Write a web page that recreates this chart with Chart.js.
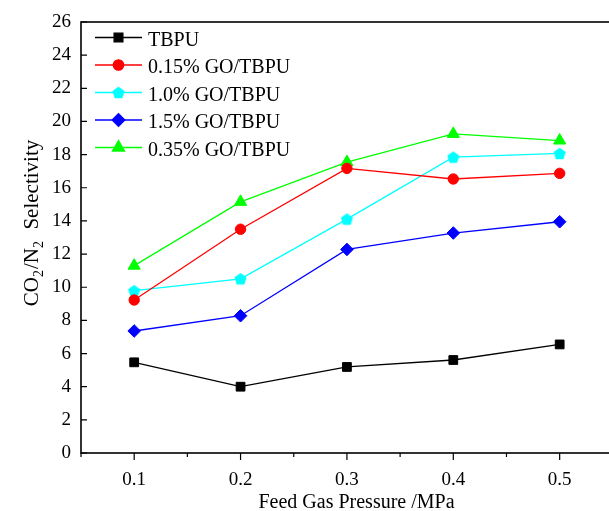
<!DOCTYPE html>
<html lang="en">
<head>
<meta charset="UTF-8">
<title>CO2/N2 Selectivity vs Feed Gas Pressure</title>
<script src="https://cdn.jsdelivr.net/npm/chart.js"></script>
<style>
    html, body {
        margin: 0;
        padding: 0;
        background: #ffffff;
        overflow: hidden;
    }
    #wrap {
        width: 640px;
        height: 511px;
    }
</style>
</head>
<body>
<div id="wrap"><canvas id="selChart" width="640" height="511"></canvas></div>
<script>
// feed gas pressure (MPa)
const pressures = [0.1, 0.2, 0.3, 0.4, 0.5];

// series names
const seriesNames = ['TBPU', '0.15% GO/TBPU', '1.0% GO/TBPU', '1.5% GO/TBPU', '0.35% GO/TBPU'];

// CO2/N2 selectivity
const tbpu   = [5.47, 4.00, 5.19, 5.61, 6.55];
const go015  = [9.23, 13.50, 17.17, 16.53, 16.87];
const go10   = [9.79, 10.51, 14.11, 17.85, 18.07];
const go15   = [7.36, 8.28, 12.28, 13.27, 13.95];
const go035  = [11.30, 15.15, 17.55, 19.25, 18.85];

// ticks
const yTicks = [0, 2, 4, 6, 8, 10, 12, 14, 16, 18, 20, 22, 24, 26];
const xMajor = [0.1, 0.2, 0.3, 0.4, 0.5];
const xMinor = [0.05, 0.15, 0.25, 0.35, 0.45, 0.55];

const FONT = "'Liberation Serif', 'Times New Roman', serif";

// pentagon marker (not built into Chart.js)
function pentagon(r, color) {
    const s = Math.ceil(r * 2) + 2;
    const c = document.createElement('canvas');
    c.width = s;
    c.height = s;
    const g = c.getContext('2d');
    g.fillStyle = color;
    g.beginPath();
    for (let i = 0; i < 5; i++) {
        const a = -Math.PI / 2 + i * 2 * Math.PI / 5;
        const px = s / 2 + r * Math.cos(a);
        const py = s / 2 + r * Math.sin(a) + 0.6;
        if (i === 0) g.moveTo(px, py); else g.lineTo(px, py);
    }
    g.closePath();
    g.fill();
    return c;
}

const colors = ['#000000', '#ff0000', '#00ffff', '#0000ff', '#00ff00'];
const styles = ['rect', 'circle', pentagon(6.4, '#00ffff'), 'rectRot', 'triangle'];
const radii = [6.2, 5.2, 6.4, 6.3, 7];
const allValues = [tbpu, go015, go10, go15, go035];

const datasets = allValues.map((vals, i) => ({
    label: seriesNames[i],
    data: vals.map((v, k) => ({ x: pressures[k], y: v })),
    borderColor: colors[i],
    backgroundColor: colors[i],
    pointBackgroundColor: colors[i],
    pointBorderColor: colors[i],
    pointStyle: styles[i],
    pointRadius: radii[i],
    pointBorderWidth: 1,
    borderWidth: 1.3,
    tension: 0,
    fill: false
}));

// frame, ticks, y title and the legend inside the plot
const decor = {
    id: 'decor',
    afterDraw(chart) {
        const { ctx, chartArea: a, scales: { x, y } } = chart;
        ctx.save();
        ctx.strokeStyle = '#000';
        ctx.lineWidth = 1.6;
        ctx.strokeRect(a.left, a.top, a.right - a.left, a.bottom - a.top);

        ctx.lineWidth = 1.2;
        ctx.beginPath();
        yTicks.forEach(v => {
            const py = y.getPixelForValue(v);
            ctx.moveTo(a.left, py);
            ctx.lineTo(a.left + 6, py);
        });
        xMajor.forEach(v => {
            const px = x.getPixelForValue(v);
            ctx.moveTo(px, a.bottom);
            ctx.lineTo(px, a.bottom + 7);
        });
        xMinor.forEach(v => {
            const px = x.getPixelForValue(v);
            ctx.moveTo(px, a.bottom);
            ctx.lineTo(px, a.bottom + 4);
        });
        ctx.stroke();

        // y axis title with subscripts
        const parts = [
            ['CO', false], ['2', true], ['/N', false], ['2', true], ['  Selectivity', false]
        ];
        const big = '21px ' + FONT, small = '14px ' + FONT;
        let total = 0;
        parts.forEach(p => {
            ctx.font = p[1] ? small : big;
            total += ctx.measureText(p[0]).width + (p[1] ? 1 : 0);
        });
        ctx.translate(38, 223);
        ctx.rotate(-Math.PI / 2);
        ctx.fillStyle = '#000';
        ctx.textBaseline = 'alphabetic';
        ctx.textAlign = 'left';
        let cx = -total / 2;
        parts.forEach(p => {
            ctx.font = p[1] ? small : big;
            ctx.fillText(p[0], cx, p[1] ? 5 : 0);
            cx += ctx.measureText(p[0]).width + (p[1] ? 1 : 0);
        });
        ctx.setTransform(1, 0, 0, 1, 0, 0);

        // legend
        const lx0 = 95, lx1 = 142, mx = 118.5, tx = 148, ly0 = 37.5, step = 27.5;
        ctx.font = '20px ' + FONT;
        chart.data.datasets.forEach((ds, i) => {
            const ly = ly0 + i * step;
            ctx.strokeStyle = ds.borderColor;
            ctx.fillStyle = ds.borderColor;
            ctx.lineWidth = 1.3;
            ctx.beginPath();
            ctx.moveTo(lx0, ly);
            ctx.lineTo(lx1, ly);
            ctx.stroke();
            Chart.helpers.drawPoint(ctx, {
                pointStyle: ds.pointStyle, radius: ds.pointRadius, rotation: 0, borderWidth: 1
            }, mx, ly);
            ctx.fillStyle = '#000';
            ctx.fillText(ds.label, tx, ly + 8);
        });
        ctx.restore();
    }
};

new Chart(document.getElementById('selChart').getContext('2d'), {
    type: 'line',
    data: { datasets: datasets },
    options: {
        responsive: false,
        animation: false,
        layout: { padding: { left: 0, right: 4, top: 22, bottom: 0 } },
        plugins: {
            legend: { display: false },
            tooltip: { enabled: false }
        },
        scales: {
            x: {
                type: 'linear',
                min: 0.05,
                max: 0.568,
                afterFit: s => { s.height = 58; },
                afterBuildTicks: s => { s.ticks = xMajor.map(v => ({ value: v })); },
                grid: { display: false, drawTicks: false },
                border: { display: false },
                ticks: {
                    padding: 16,
                    color: '#000',
                    maxRotation: 0,
                    autoSkip: false,
                    font: { family: FONT, size: 19 },
                    callback: v => v.toFixed(1)
                },
                title: {
                    display: true,
                    text: 'Feed Gas Pressure /MPa',
                    color: '#000',
                    font: { family: FONT, size: 20 },
                    padding: { top: 0, bottom: -4 }
                }
            },
            y: {
                min: 0,
                max: 26,
                afterFit: s => { s.width = 81; },
                afterBuildTicks: s => { s.ticks = yTicks.map(v => ({ value: v })); },
                grid: { display: false, drawTicks: false },
                border: { display: false },
                ticks: {
                    padding: 10,
                    color: '#000',
                    font: { family: FONT, size: 19 }
                }
            }
        }
    },
    plugins: [decor]
});
</script>
</body>
</html>
